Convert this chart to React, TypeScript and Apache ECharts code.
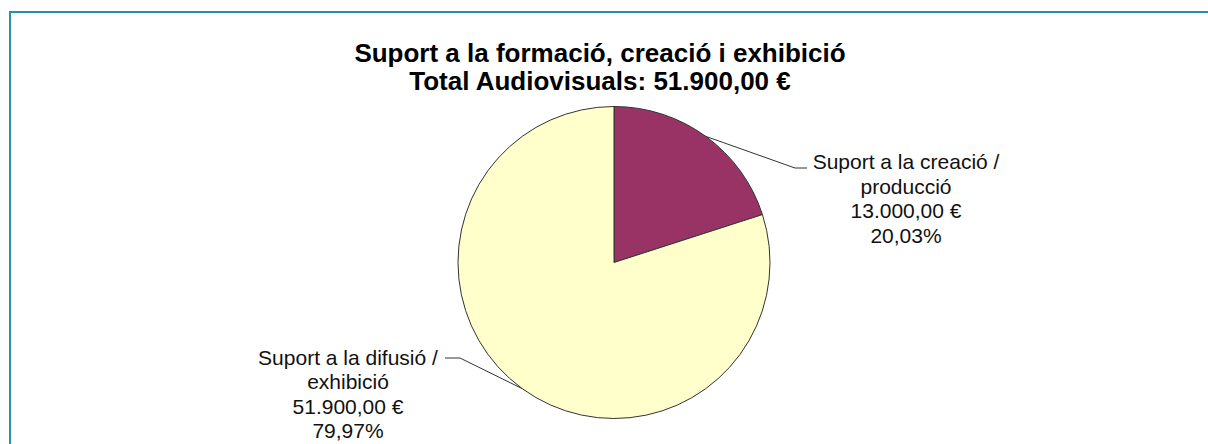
import React, { useEffect, useRef } from "react";
import * as echarts from "echarts";

const categories = ["Suport a la creació / producció", "Suport a la difusió / exhibició"];
const values = [13000, 51900];
const colors = ["#993366", "#FFFFCC"];
const titleLines = ["Suport a la formació, creació i exhibició", "Total Audiovisuals: 51.900,00 €"];

function fmtEuro(v: number): string {
  const fixed = v.toFixed(2);
  const [intPart, dec] = fixed.split(".");
  const withDots = intPart.replace(/\B(?=(\d{3})+(?!\d))/g, ".");
  return withDots + "," + dec + " €";
}

export default function App() {
  const ref = useRef<HTMLDivElement>(null);
  useEffect(() => {
    if (!ref.current) return;
    const chart = echarts.init(ref.current, undefined, { renderer: "svg" });
    chart.setOption({
      animation: false,
      backgroundColor: "#ffffff",
      title: {
        text: titleLines.join("\n"),
        left: 595,
        top: 34,
        textAlign: "center",
        textStyle: {
          fontFamily: "Liberation Sans, Arial, sans-serif",
          fontSize: 26,
          fontWeight: "bold",
          color: "#000",
          lineHeight: 28,
        },
      },
      graphic: [
        {
          type: "rect",
          shape: { x: 10, y: 12, width: 1400, height: 800 },
          style: { fill: "none", stroke: "#2592aa", lineWidth: 2 },
          silent: true,
        },
      ],
      series: [
        {
          type: "pie",
          center: [614, 262.5],
          radius: 156,
          startAngle: 90,
          clockwise: true,
          avoidLabelOverlap: false,
          data: categories.map((c, i) => ({
            name: c,
            value: values[i],
            itemStyle: { color: colors[i] },
          })),
          itemStyle: { borderColor: "#333", borderWidth: 1 },
          label: {
            show: true,
            position: "outside",
            fontFamily: "Liberation Sans, Arial, sans-serif",
            fontSize: 21,
            lineHeight: 24.5,
            color: "#111",
            align: "center",
            formatter: (p: any) =>
              p.name.replace(" / ", " /\n") +
              "\n" +
              fmtEuro(p.value) +
              "\n" +
              p.percent.toFixed(2).replace(".", ",") +
              "%",
          },
          labelLine: {
            show: true,
            length: 20,
            length2: 10,
            lineStyle: { color: "#333", width: 1 },
          },
          labelLayout: (params: any) => {
            const pts = params.labelLinePoints;
            const start = pts && pts[0] ? pts[0] : [0, 0];
            if (params.dataIndex === 0) {
              return {
                x: 906,
                y: 198.5,
                align: "center",
                verticalAlign: "middle",
                labelLinePoints: [start, [795, 168], [807, 168]],
              };
            }
            return {
              x: 348,
              y: 394,
              align: "center",
              verticalAlign: "middle",
              labelLinePoints: [start, [460, 358], [445, 358]],
            };
          },
        },
      ],
    });
    return () => chart.dispose();
  }, []);
  return (
    <div
      ref={ref}
      style={{ position: "fixed", left: 0, top: 0, width: 1208, height: 444 }}
    />
  );
}
